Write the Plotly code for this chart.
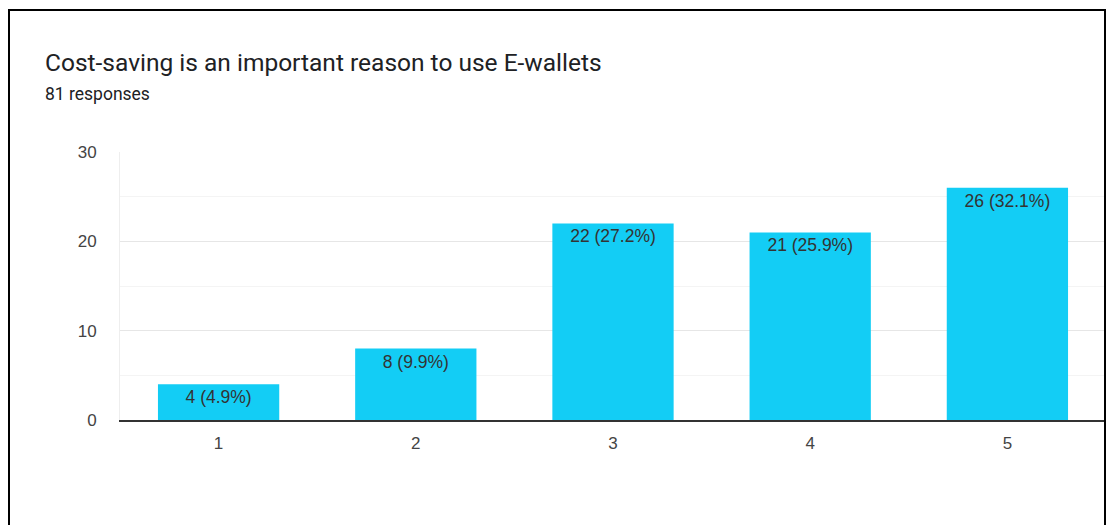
import plotly.graph_objects as go

# Survey responses on a 1-5 scale
categories = ["1", "2", "3", "4", "5"]
counts = [4, 8, 22, 21, 26]
total_responses = 81
y_ticks = [0, 10, 20, 30]

labels = [f"{c} ({c / total_responses * 100:.1f}%)" for c in counts]

W, H = 1109, 525
ML, MR, MT, MB = 120, 3, 152, 105
PW = W - ML - MR
PH = H - MT - MB


def px_x(px):
    return (px - ML) / PW


def px_y(py):
    return (H - MB - py) / PH


fig = go.Figure(
    go.Bar(
        x=categories,
        y=counts,
        text=labels,
        textposition="inside",
        insidetextanchor="end",
        textangle=0,
        constraintext="none",
        textfont=dict(family="Liberation Sans, Arial, sans-serif", size=17.5, color="#333333"),
        marker=dict(color="#13CDF5", line=dict(width=0)),
        hoverinfo="skip",
    )
)

fig.update_layout(
    width=W,
    height=H,
    margin=dict(l=ML, r=MR, t=MT, b=MB, pad=0),
    paper_bgcolor="white",
    plot_bgcolor="white",
    bargap=0.385,
    showlegend=False,
    xaxis=dict(
        type="category",
        showline=True,
        linecolor="#333333",
        linewidth=2,
        showgrid=False,
        ticks="",
        tickfont=dict(family="Liberation Sans, Arial, sans-serif", size=17, color="#444444"),
        ticklabelstandoff=7,
    ),
    yaxis=dict(
        range=[0, 30],
        tickvals=y_ticks,
        showgrid=True,
        gridcolor="#e6e6e6",
        gridwidth=1,
        zeroline=False,
        showline=True,
        linecolor="#eeeeee",
        linewidth=1,
        ticks="",
        ticklabelstandoff=19,
        tickfont=dict(family="Liberation Sans, Arial, sans-serif", size=17, color="#444444"),
        minor=dict(dtick=5, showgrid=True, gridcolor="#f4f4f4", gridwidth=1),
    ),
    shapes=[
        dict(
            type="rect",
            xref="paper",
            yref="paper",
            x0=px_x(9),
            x1=px_x(1105),
            y0=px_y(540),
            y1=px_y(10),
            line=dict(color="black", width=2),
            fillcolor="rgba(0,0,0,0)",
            layer="above",
        )
    ],
    annotations=[
        dict(
            text="Cost-saving is an important reason to use E-wallets",
            xref="paper",
            yref="paper",
            x=px_x(43),
            y=px_y(62),
            xanchor="left",
            yanchor="middle",
            showarrow=False,
            font=dict(family="Roboto, sans-serif", size=24.5, color="#202124"),
        ),
        dict(
            text="81 responses",
            xref="paper",
            yref="paper",
            x=px_x(43),
            y=px_y(94),
            xanchor="left",
            yanchor="middle",
            showarrow=False,
            font=dict(family="Roboto, sans-serif", size=17.5, color="#202124"),
        ),
    ],
)

fig.write_html("out.html")
